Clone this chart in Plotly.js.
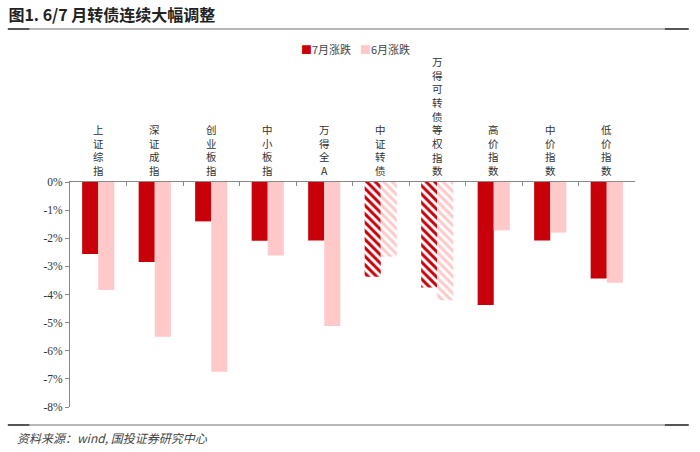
<!DOCTYPE html>
<html>
<head>
<meta charset="utf-8">
<script src="https://cdn.plot.ly/plotly-3.0.1.min.js"></script>
<style>
  body { margin: 0; background: #fff; }
  #chart { width: 700px; height: 452px; }
</style>
</head>
<body>
<div id="chart"></div>
<script>
// Categories and monthly changes (%)
const categories = ['上证综指', '深证成指', '创业板指', '中小板指', '万得全A',
    '中证转债', '万得可转债等权指数', '高价指数', '中价指数', '低价指数'];
const julChange = [-2.56, -2.84, -1.40, -2.09, -2.08, -3.37, -3.75, -4.37, -2.08, -3.43];
const junChange = [-3.84, -5.50, -6.75, -2.61, -5.12, -2.66, -4.20, -1.72, -1.80, -3.58];
const hatched = [false, false, false, false, false, true, true, false, false, false];
const seriesNames = ['7月涨跌', '6月涨跌'];
const yTickVals = [0, -1, -2, -3, -4, -5, -6, -7, -8];
const yTickText = ['0%', '-1%', '-2%', '-3%', '-4%', '-5%', '-6%', '-7%', '-8%'];

const RED = '#C8000A';
const PINK = '#FFC9C9';
const SERIF = '"Liberation Serif", "Times New Roman", serif';
const CJK = '"Noto Sans CJK SC", sans-serif';

function barTrace(name, values, color) {
    return {
        type: 'bar',
        name: name,
        x: categories,
        y: values,
        marker: {
            color: color,
            line: { width: 0 },
            pattern: {
                shape: hatched.map(h => h ? '\\' : ''),
                bgcolor: 'white',
                size: 6,
                solidity: 0.5,
                fillmode: 'replace'
            }
        },
        showlegend: false
    };
}

const traces = [
    barTrace(seriesNames[0], julChange, RED),
    barTrace(seriesNames[1], junChange, PINK)
];

// Vertical category labels above the zero line (one character per line)
const labelAnnotations = categories.map(c => ({
    x: c,
    y: 0,
    xref: 'x',
    yref: 'y',
    text: c.split('').join('<br>'),
    showarrow: false,
    yanchor: 'bottom',
    yshift: 3,
    borderpad: 0,
    font: { family: CJK, size: 10.5, color: '#333' }
}));

// Compact legend drawn as text
const legendAnnotations = [
    { text: '<span style="color:' + RED + '">■</span>' + seriesNames[0], x: 0.405 },
    { text: '<span style="color:' + PINK + '">■</span>' + seriesNames[1], x: 0.51 }
].map(a => ({
    text: a.text,
    xref: 'paper',
    yref: 'paper',
    x: a.x,
    xanchor: 'left',
    y: (407 - 49) / 225,
    yanchor: 'middle',
    showarrow: false,
    font: { family: CJK, size: 11, color: '#444' }
}));

const rule = (y, x0, x1, color, width) => ({
    type: 'line', xref: 'paper', yref: 'paper',
    x0: x0, x1: x1, y0: y, y1: y,
    line: { color: color, width: width }
});
const titleY = (407 - 29) / 225;
const footY = (407 - 425) / 225;

const layout = {
    width: 700,
    height: 452,
    margin: { l: 70, r: 65, t: 182, b: 45 },
    paper_bgcolor: 'white',
    plot_bgcolor: 'white',
    barmode: 'group',
    bargap: 0.43,
    bargroupgap: 0,
    showlegend: false,
    xaxis: {
        side: 'top',
        showticklabels: false,
        showline: true,
        linecolor: '#888',
        linewidth: 1,
        ticks: 'inside',
        ticklen: 4,
        tickcolor: '#888',
        tickson: 'boundaries',
        showgrid: false,
        zeroline: false,
        fixedrange: true
    },
    yaxis: {
        range: [-8, 0],
        tickvals: yTickVals,
        ticktext: yTickText,
        showline: true,
        linecolor: '#888',
        linewidth: 1,
        ticks: 'outside',
        ticklen: 4,
        tickcolor: '#888',
        showgrid: false,
        zeroline: false,
        tickfont: { family: SERIF, size: 11.5, color: '#333' }
    },
    title: {
        text: '<b>图1. 6/7 月转债连续大幅调整</b>',
        x: 0.012,
        xanchor: 'left',
        y: 0.967,
        yanchor: 'middle',
        font: { family: CJK, size: 16, color: '#222' }
    },
    annotations: labelAnnotations.concat(legendAnnotations, [{
        text: '<i>资料来源：wind, 国投证券研究中心</i>',
        xref: 'paper',
        yref: 'paper',
        x: -0.097,
        xanchor: 'left',
        y: (407 - 437) / 225,
        yanchor: 'middle',
        showarrow: false,
        font: { family: CJK, size: 12, color: '#444' }
    }]),
    shapes: [
        rule(titleY, -0.110, 1.095, '#A0A0A0', 1.5),
        rule(titleY, -0.110, -0.072, '#555', 2),
        rule(titleY, 1.053, 1.095, '#555', 2),
        rule(footY, -0.110, 1.095, '#A0A0A0', 1.5),
        rule(footY, -0.110, -0.072, '#555', 2),
        rule(footY, 1.053, 1.095, '#555', 2)
    ]
};

Plotly.newPlot('chart', traces, layout, { displayModeBar: false, staticPlot: true });
</script>
</body>
</html>
